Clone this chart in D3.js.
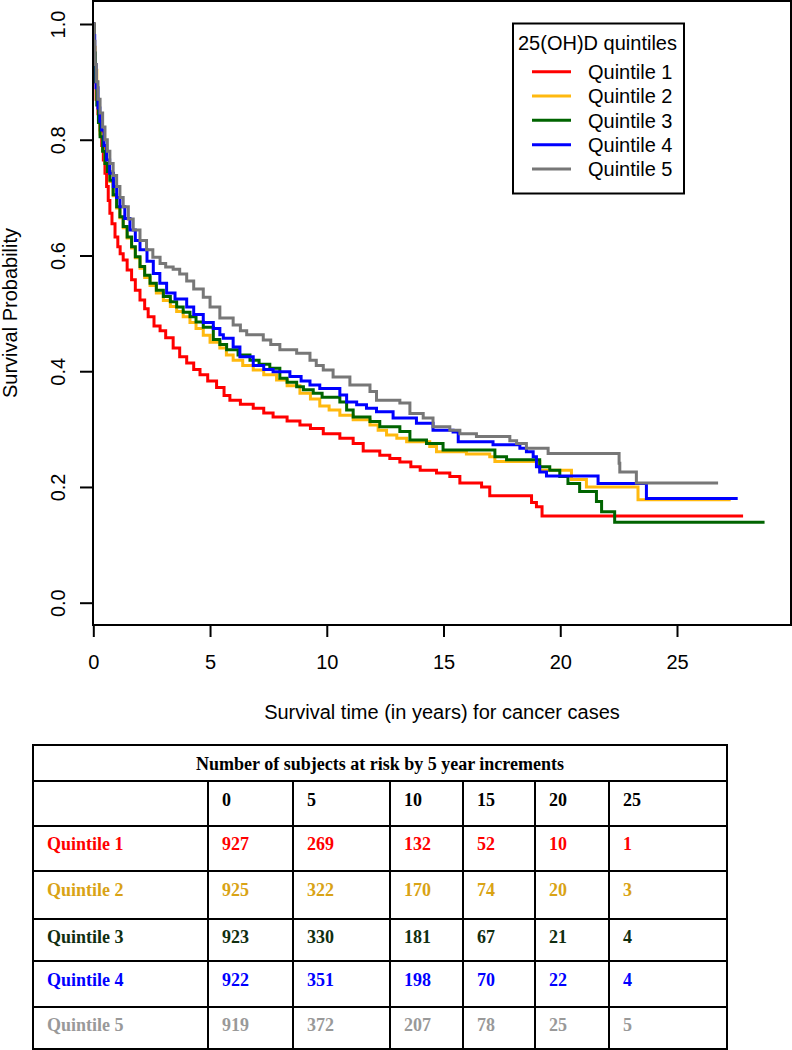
<!DOCTYPE html>
<html>
<head>
<meta charset="utf-8">
<script src="https://cdn.jsdelivr.net/npm/d3@7"></script>
<style>
  html, body { margin: 0; padding: 0; background: #fff; }
  svg { display: block; }
</style>
</head>
<body>
<svg id="chart" width="792" height="1050"></svg>
<script>
// ---------------- DATA ----------------
const seriesNames = ["Quintile 1", "Quintile 2", "Quintile 3", "Quintile 4", "Quintile 5"];
const lineColors  = ["#FF0000", "#FFB90F", "#006400", "#0000FF", "#777777"];
const tableColors = ["#FF0000", "#D9A315", "#102E10", "#0000FF", "#999999"];
const legendTitle = "25(OH)D quintiles";
const xTicks = [0, 5, 10, 15, 20, 25];
const yTicks = [0, 0.2, 0.4, 0.6, 0.8, 1.0];

// [time (years), survival probability]
const q1 = [[0,1],[0.03,0.95],[0.06,0.90],[0.12,0.87],[0.2,0.845],[0.29,0.817],[0.36,0.79],[0.43,0.765],[0.5,0.742],[0.57,0.719],[0.64,0.695],[0.71,0.673],[0.8,0.655],[0.93,0.632],[1.05,0.615],[1.15,0.603],[1.28,0.592],[1.45,0.575],[1.64,0.558],[1.8,0.540],[2.0,0.523],[2.2,0.508],[2.35,0.494],[2.6,0.478],[2.86,0.470],[3.1,0.458],[3.42,0.440],[3.7,0.425],[4.0,0.414],[4.3,0.403],[4.57,0.394],[4.9,0.383],[5.28,0.372],[5.6,0.358],[5.85,0.350],[6.3,0.343],[6.85,0.336],[7.3,0.328],[7.7,0.321],[8.3,0.314],[8.85,0.307],[9.3,0.301],[9.85,0.292],[10.56,0.284],[11.13,0.275],[11.56,0.262],[12.27,0.255],[12.7,0.249],[13.13,0.243],[13.6,0.235],[14.0,0.229],[14.7,0.224],[15.27,0.218],[15.7,0.207],[16.63,0.200],[16.98,0.185],[18.72,0.185],[18.77,0.173],[18.98,0.166],[19.22,0.150],[27.83,0.150]];
const q2 = [[0,1],[0.03,0.96],[0.08,0.92],[0.15,0.87],[0.22,0.835],[0.29,0.81],[0.4,0.782],[0.5,0.76],[0.6,0.745],[0.71,0.728],[0.85,0.703],[1.0,0.682],[1.14,0.665],[1.28,0.648],[1.45,0.630],[1.64,0.613],[1.8,0.596],[2.0,0.578],[2.2,0.562],[2.43,0.548],[2.7,0.535],[3.0,0.522],[3.3,0.512],[3.57,0.503],[3.85,0.494],[4.14,0.484],[4.4,0.474],[4.71,0.462],[5.0,0.450],[5.42,0.440],[5.7,0.428],[5.99,0.419],[6.4,0.410],[6.85,0.402],[7.3,0.394],[7.85,0.385],[8.3,0.375],[8.85,0.362],[9.3,0.352],[9.7,0.340],[10.1,0.333],[10.56,0.324],[11.13,0.316],[11.85,0.307],[12.2,0.298],[12.56,0.290],[13.0,0.284],[13.42,0.278],[14.41,0.270],[14.7,0.261],[15.98,0.257],[16.98,0.252],[17.2,0.244],[18.84,0.244],[19.12,0.229],[20.41,0.229],[20.48,0.213],[21.05,0.213],[21.12,0.200],[23.33,0.178],[27.3,0.178]];
const q3 = [[0,1],[0.03,0.95],[0.08,0.90],[0.15,0.86],[0.22,0.83],[0.29,0.805],[0.4,0.78],[0.5,0.759],[0.6,0.745],[0.71,0.730],[0.85,0.705],[1.0,0.684],[1.14,0.667],[1.28,0.650],[1.45,0.632],[1.64,0.615],[1.8,0.598],[2.0,0.581],[2.2,0.566],[2.43,0.552],[2.7,0.540],[3.0,0.529],[3.3,0.520],[3.57,0.511],[3.85,0.502],[4.14,0.494],[4.4,0.485],[4.71,0.476],[5.14,0.455],[5.42,0.446],[5.71,0.437],[6.2,0.428],[6.71,0.419],[7.1,0.412],[7.56,0.405],[7.99,0.388],[8.3,0.381],[8.71,0.373],[9.0,0.368],[9.42,0.362],[9.8,0.355],[10.56,0.347],[10.85,0.333],[11.13,0.321],[11.85,0.313],[12.27,0.304],[13.13,0.296],[13.56,0.281],[14.27,0.275],[14.98,0.264],[16.98,0.264],[17.2,0.252],[17.7,0.247],[18.84,0.247],[19.12,0.235],[19.55,0.229],[19.98,0.218],[20.33,0.206],[20.83,0.192],[21.55,0.175],[21.77,0.157],[22.33,0.139],[28.75,0.139]];
const q4 = [[0,1],[0.02,0.98],[0.06,0.93],[0.12,0.89],[0.2,0.855],[0.28,0.832],[0.36,0.817],[0.46,0.79],[0.57,0.765],[0.7,0.742],[0.86,0.719],[1.0,0.70],[1.14,0.684],[1.35,0.664],[1.57,0.644],[1.8,0.626],[2.0,0.610],[2.3,0.590],[2.57,0.569],[2.85,0.552],[3.14,0.535],[3.5,0.525],[4.0,0.511],[4.3,0.498],[4.71,0.484],[5.14,0.474],[5.42,0.463],[5.57,0.457],[5.99,0.442],[6.28,0.425],[6.85,0.410],[7.3,0.403],[7.70,0.399],[8.42,0.391],[8.9,0.383],[9.28,0.376],[9.7,0.370],[10.56,0.359],[10.85,0.347],[11.28,0.342],[11.7,0.336],[12.13,0.330],[12.84,0.319],[13.84,0.310],[14.55,0.298],[15.41,0.295],[15.63,0.278],[17.05,0.278],[17.12,0.273],[18.27,0.267],[18.55,0.261],[18.84,0.252],[18.98,0.235],[19.12,0.226],[19.41,0.219],[21.62,0.206],[23.69,0.180],[27.6,0.180]];
const q5 = [[0,1],[0.03,0.97],[0.07,0.93],[0.13,0.90],[0.2,0.87],[0.29,0.846],[0.4,0.822],[0.5,0.800],[0.6,0.780],[0.71,0.759],[0.85,0.738],[1.0,0.719],[1.14,0.700],[1.28,0.684],[1.5,0.663],[1.71,0.644],[2.0,0.626],[2.28,0.610],[2.55,0.597],[2.86,0.586],[3.1,0.580],[3.42,0.576],[3.7,0.568],[4.0,0.556],[4.3,0.542],[4.71,0.528],[5.0,0.511],[5.42,0.492],[5.99,0.480],[6.3,0.470],[6.57,0.463],[7.28,0.454],[7.6,0.446],[7.99,0.437],[8.71,0.431],[9.28,0.419],[9.55,0.410],[9.85,0.402],[10.27,0.390],[10.99,0.376],[11.85,0.365],[12.13,0.350],[13.13,0.345],[13.56,0.327],[14.13,0.319],[14.55,0.304],[15.27,0.298],[15.70,0.292],[16.41,0.287],[17.84,0.280],[18.13,0.275],[18.55,0.267],[19.48,0.258],[22.52,0.241],[22.55,0.226],[23.26,0.207],[26.76,0.207]];
const curves = [q1, q2, q3, q4, q5];

// number at risk table
const tableTitle = "Number of subjects at risk by 5 year increments";
const riskTimes = ["0", "5", "10", "15", "20", "25"];
const atRiskQ1 = [927, 269, 132, 52, 10, 1];
const atRiskQ2 = [925, 322, 170, 74, 20, 3];
const atRiskQ3 = [923, 330, 181, 67, 21, 4];
const atRiskQ4 = [922, 351, 198, 70, 22, 4];
const atRiskQ5 = [919, 372, 207, 78, 25, 5];
const atRisk = [atRiskQ1, atRiskQ2, atRiskQ3, atRiskQ4, atRiskQ5];

// ---------------- LAYOUT ----------------
const svg = d3.select("#chart");
const box = {left: 93, right: 791, top: 1, bottom: 625};
const x = d3.scaleLinear().domain([0, 25]).range([93.3, 677]);
const y = d3.scaleLinear().domain([0, 1]).range([602.7, 24]);
const sansFont = "'Liberation Sans', Arial, sans-serif";
const serifFont = "'Liberation Serif', 'Times New Roman', serif";

// curves
const line = d3.line().x(d => x(d[0])).y(d => y(d[1])).curve(d3.curveStepAfter);
svg.append("g").selectAll("path").data(curves).join("path")
  .attr("d", line)
  .attr("fill", "none")
  .attr("stroke", (d, i) => lineColors[i])
  .attr("stroke-width", 3)
  .attr("stroke-linejoin", "miter")
  .attr("stroke-linecap", "butt");

// box
svg.append("rect")
  .attr("x", box.left).attr("y", box.top)
  .attr("width", box.right - box.left).attr("height", box.bottom - box.top)
  .attr("fill", "none").attr("stroke", "#000").attr("stroke-width", 2);

// x axis
const xAxis = svg.append("g").attr("transform", `translate(0,${box.bottom})`)
  .call(d3.axisBottom(x).tickValues(xTicks).tickSize(12).tickPadding(18).tickFormat(d3.format("d")));
xAxis.select(".domain").remove();
xAxis.selectAll("line").attr("stroke", "#000").attr("stroke-width", 2);
xAxis.selectAll("text").attr("font-family", sansFont).attr("font-size", 20).attr("fill", "#000");

// y axis
const yAxis = svg.append("g").attr("transform", `translate(${box.left},0)`)
  .call(d3.axisLeft(y).tickValues(yTicks).tickSize(13).tickFormat(d3.format(".1f")));
yAxis.select(".domain").remove();
yAxis.selectAll("line").attr("stroke", "#000").attr("stroke-width", 2);
yAxis.selectAll("text")
  .attr("x", null).attr("dy", null)
  .attr("text-anchor", "middle")
  .attr("transform", "translate(-28,0) rotate(-90)")
  .attr("font-family", sansFont).attr("font-size", 20).attr("fill", "#000");

// axis titles
svg.append("text")
  .attr("x", (box.left + box.right) / 2).attr("y", 719)
  .attr("text-anchor", "middle")
  .attr("font-family", sansFont).attr("font-size", 20)
  .text("Survival time (in years) for cancer cases");
svg.append("text")
  .attr("transform", `translate(17,${(box.top + box.bottom) / 2}) rotate(-90)`)
  .attr("text-anchor", "middle")
  .attr("font-family", sansFont).attr("font-size", 20)
  .text("Survival Probability");

// legend
const lg = svg.append("g");
lg.append("rect").attr("x", 513).attr("y", 23.5).attr("width", 171).attr("height", 170)
  .attr("fill", "#fff").attr("stroke", "#000").attr("stroke-width", 2);
lg.append("text").attr("x", 518).attr("y", 50)
  .attr("font-family", sansFont).attr("font-size", 20).text(legendTitle);
const rowY = d3.scaleLinear().domain([0, 4]).range([71.7, 169]);
seriesNames.forEach((name, i) => {
  lg.append("line").attr("x1", 532).attr("x2", 571).attr("y1", rowY(i)).attr("y2", rowY(i))
    .attr("stroke", lineColors[i]).attr("stroke-width", 3);
  lg.append("text").attr("x", 588).attr("y", rowY(i)).attr("dy", "0.36em")
    .attr("font-family", sansFont).attr("font-size", 20).text(name);
});

// ---------------- TABLE ----------------
const colX = [33, 208, 293, 390, 463, 535, 609, 727];
const rowLines = [745, 781, 826, 871, 919, 961, 1007, 1049];
const rowBase = [806, 850, 896, 943, 986, 1031];
const tg = svg.append("g");
// borders
tg.append("rect").attr("x", colX[0]).attr("y", rowLines[0])
  .attr("width", colX[7] - colX[0]).attr("height", rowLines[7] - rowLines[0])
  .attr("fill", "none").attr("stroke", "#000").attr("stroke-width", 2);
rowLines.slice(1, 7).forEach(yy => {
  tg.append("line").attr("x1", colX[0]).attr("x2", colX[7]).attr("y1", yy).attr("y2", yy)
    .attr("stroke", "#000").attr("stroke-width", 2);
});
colX.slice(1, 7).forEach(xx => {
  tg.append("line").attr("x1", xx).attr("x2", xx).attr("y1", rowLines[1]).attr("y2", rowLines[7])
    .attr("stroke", "#000").attr("stroke-width", 2);
});
// title
tg.append("text").attr("x", 380).attr("y", 770).attr("text-anchor", "middle")
  .attr("font-family", serifFont).attr("font-weight", "bold").attr("font-size", 18)
  .text(tableTitle);
// header
riskTimes.forEach((t, j) => {
  tg.append("text").attr("x", colX[j + 1] + 14).attr("y", rowBase[0])
    .attr("font-family", serifFont).attr("font-weight", "bold").attr("font-size", 18)
    .text(t);
});
// rows
atRisk.forEach((row, i) => {
  tg.append("text").attr("x", 47).attr("y", rowBase[i + 1])
    .attr("font-family", serifFont).attr("font-weight", "bold").attr("font-size", 18)
    .attr("fill", tableColors[i]).text(seriesNames[i]);
  row.forEach((v, j) => {
    tg.append("text").attr("x", colX[j + 1] + 14).attr("y", rowBase[i + 1])
      .attr("font-family", serifFont).attr("font-weight", "bold").attr("font-size", 18)
      .attr("fill", tableColors[i]).text(v);
  });
});
</script>
</body>
</html>
